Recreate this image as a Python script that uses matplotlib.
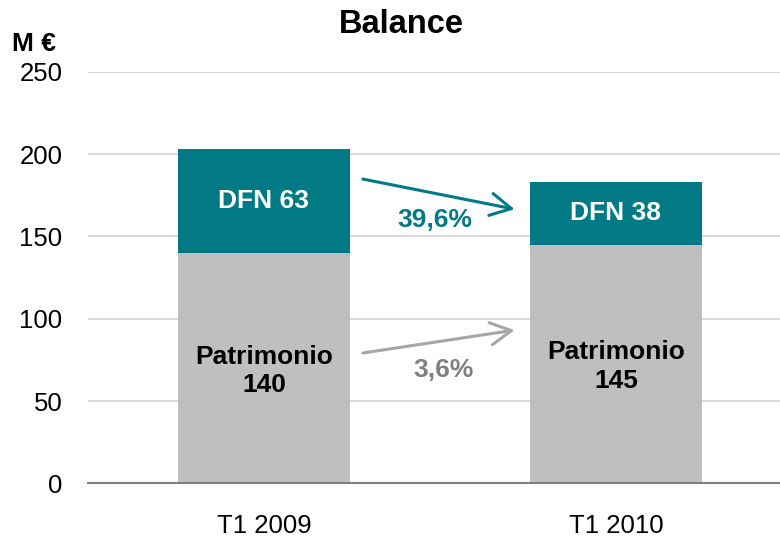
import matplotlib.pyplot as plt

plt.rcParams['font.family'] = ['Liberation Sans', 'DejaVu Sans']

periods = ['T1 2009', 'T1 2010']
patrimonio = [140, 145]
dfn = [63, 38]
dfn_change = '39,6%'
patrimonio_change = '3,6%'

teal = '#017A86'
grey = '#BFBFBF'

fig = plt.figure(figsize=(7.8, 5.37), dpi=100)
ax = fig.add_axes([0.1128, 0.1, 0.8872, 0.766])

x = range(len(periods))
ax.bar(x, patrimonio, width=0.49, color=grey, zorder=2)
ax.bar(x, dfn, bottom=patrimonio, width=0.49, color=teal, zorder=2)

ax.set_xlim(-0.5, 1.466)
ax.set_ylim(0, 250)
ax.set_yticks(range(0, 251, 50))
ax.set_xticks(list(x))
ax.set_xticklabels(periods)
ax.tick_params(axis='both', length=0, labelsize=18.5)
ax.tick_params(axis='y', pad=18.5)
ax.tick_params(axis='x', pad=22)
ax.grid(axis='y', color='#D9D9D9', linewidth=1.5, zorder=0)
for s in ['top', 'right', 'left']:
    ax.spines[s].set_visible(False)
ax.spines['bottom'].set_color('#808080')
ax.spines['bottom'].set_linewidth(1.5)
ax.spines['bottom'].set_zorder(3)

# labels inside bars
for i in x:
    ax.text(i, patrimonio[i] + dfn[i] / 2, 'DFN %d' % dfn[i], color='white',
            ha='center', va='center', fontsize=19, fontweight='bold', zorder=4)
    ax.text(i, patrimonio[i] / 2 - 1.5, 'Patrimonio\n%d' % patrimonio[i], color='black',
            ha='center', va='center', fontsize=19, fontweight='bold',
            linespacing=1.22, zorder=4)

# change arrows
head = '->,head_length=1.5,head_width=0.8'
ax.annotate('', xy=(0.712, 166.6), xytext=(0.281, 184.9),
            arrowprops=dict(arrowstyle=head, color=teal, lw=2.2,
                            shrinkA=0, shrinkB=0), zorder=4)
ax.annotate('', xy=(0.712, 93.1), xytext=(0.281, 79.2),
            arrowprops=dict(arrowstyle=head, color='#A6A6A6', lw=2.2,
                            shrinkA=0, shrinkB=0), zorder=4)
ax.text(0.486, 160, dfn_change, color=teal, ha='center', va='center',
        fontsize=19, fontweight='bold')
ax.text(0.509, 68.8, patrimonio_change, color='#808080', ha='center', va='center',
        fontsize=19, fontweight='bold')

fig.text(0.514, 0.955, 'Balance', ha='center', va='center', fontsize=23.5,
         fontweight='bold')
fig.text(0.016, 0.918, 'M €', ha='left', va='center', fontsize=19,
         fontweight='bold')

fig.savefig('out.png', dpi=100)
